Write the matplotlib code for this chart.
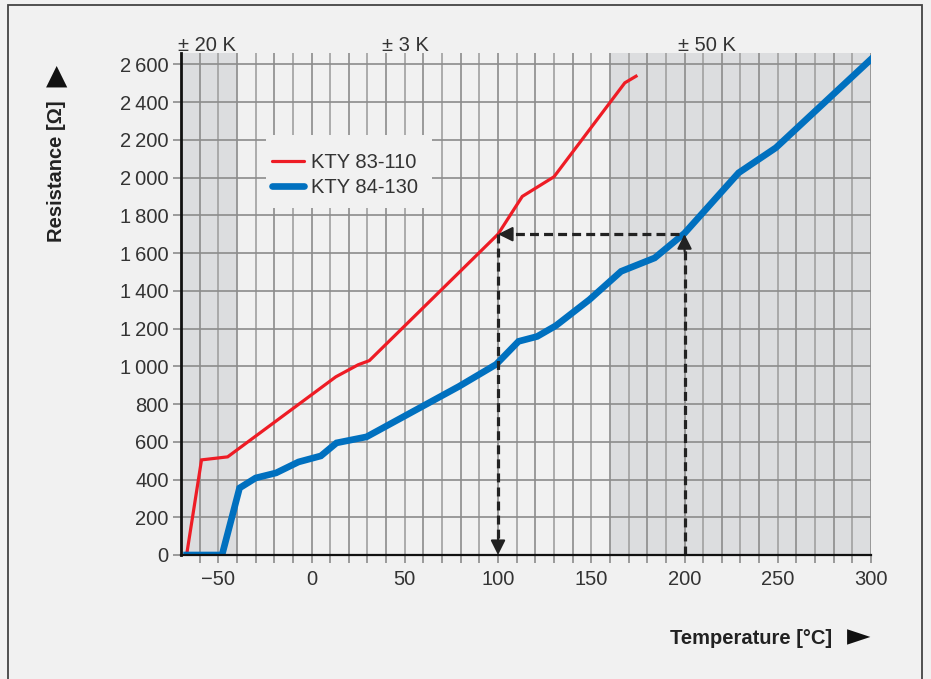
import matplotlib.pyplot as plt
from matplotlib.patches import Rectangle
import numpy as np

plt.rcParams['font.family'] = ['Liberation Sans', 'DejaVu Sans']

# data
t_83 = [-67, -59, -45, 13, 25, 31, 100, 113, 130, 168, 174]
r_83 = [0, 504, 520, 944, 1008, 1030, 1700, 1900, 2004, 2502, 2537]

t_84 = [-67, -48, -38.6, -30, -19, -7, 5, 13.4, 29.5, 79, 99, 111, 121, 131, 149, 166, 184, 200, 229, 249, 300]
r_84 = [0, 0, 355, 408, 435, 493, 525, 594, 626, 893, 1010, 1132, 1158, 1215, 1353, 1503, 1574, 1705, 2025, 2158, 2627]

x_ticks = [-50, 0, 50, 100, 150, 200, 250, 300]
y_ticks = list(range(0, 2601, 200))
y_labels = ['0', '200', '400', '600', '800', '1\u2009000', '1\u2009200', '1\u2009400',
            '1\u2009600', '1\u2009800', '2\u2009000', '2\u2009200', '2\u2009400', '2\u2009600']
tol_labels = ['\u00b1 20 K', '\u00b1 3 K', '\u00b1 50 K']
tol_pos = [-56, 50.5, 212]

bg = '#f1f1f1'
fig = plt.figure(figsize=(9.31, 6.79), dpi=100, facecolor=bg)
ax = fig.add_axes([181 / 931, 1 - 555 / 679, 690 / 931, 502 / 679])
ax.set_facecolor(bg)
ax.set_xlim(-70, 300)
ax.set_ylim(0, 2660)

# shaded tolerance bands
ax.axvspan(-70, -40, color='#dcdddf', zorder=0, lw=0)
ax.axvspan(160, 300, color='#dcdddf', zorder=0, lw=0)

# grid
for xv in range(-60, 301, 10):
    ax.plot([xv, xv], [0, 2660], color='#8c8c8c' if xv % 20 == 0 else '#a0a0a0', lw=1.2, zorder=1)
for yv in y_ticks[1:]:
    ax.axhline(yv, color='#8c8c8c', lw=1.2, zorder=1)

# legend box hides grid
ax.add_patch(Rectangle((-24.5, 1840), 89, 385, facecolor=bg, edgecolor='none', zorder=2))

ax.plot(t_83, r_83, color='#ee1c25', lw=2.3, zorder=4, label='KTY 83-110', solid_joinstyle='miter')
ax.plot(t_84, r_84, color='#0070bf', lw=4.8, zorder=4, label='KTY 84-130', solid_joinstyle='miter')

# dashed reading arrows
dash = dict(color='#222222', lw=2.3, linestyle=(0, (2.8, 1.6)), zorder=5)
ax.plot([197, 100], [1700, 1700], **dash)
ax.plot([100, 100], [1700, 60], **dash)
ax.plot([200, 200], [0, 1640], **dash)
head = dict(arrowstyle='-|>', mutation_scale=22, color='#222222', lw=1.5, shrinkA=0, shrinkB=0)
ax.annotate('', xy=(100, 1700), xytext=(106, 1700), arrowprops=head, zorder=6)
ax.annotate('', xy=(100, 0), xytext=(100, 90), arrowprops=head, zorder=6)
ax.annotate('', xy=(200, 1700), xytext=(200, 1610), arrowprops=head, zorder=6)

leg = ax.legend(loc='upper left', bbox_to_anchor=(0.117, 0.82), frameon=False, fontsize=14.5,
                handlelength=1.6, handletextpad=0.35, labelspacing=0.28, borderpad=0)
for t in leg.get_texts():
    t.set_color('#333333')
for h in leg.get_lines():
    h.set_solid_capstyle('round')

# axes styling
for s in ['top', 'right']:
    ax.spines[s].set_visible(False)
ax.spines['left'].set_linewidth(2)
ax.spines['left'].set_color('#111111')
ax.spines['bottom'].set_linewidth(1.6)
ax.spines['bottom'].set_color('#111111')
ax.spines['left'].set_zorder(7)
ax.spines['bottom'].set_zorder(7)

ax.set_xticks(x_ticks)
ax.set_xticklabels([str(v).replace('-', '\u2212') for v in x_ticks])
ax.set_xticks(range(-60, 301, 10), minor=True)
ax.set_yticks(y_ticks)
ax.set_yticklabels(y_labels)
ax.tick_params(axis='both', which='both', color='#8c8c8c', length=6, width=1.2,
               labelsize=14.5, labelcolor='#333333')
ax.tick_params(axis='y', pad=3)
ax.tick_params(axis='x', pad=5)

for lab, xp in zip(tol_labels, tol_pos):
    ax.text(xp, 2672, lab, ha='center', va='baseline', fontsize=14.5, color='#333333')

# axis titles with arrow marks
fig.text(57 / 931, 1 - 171 / 679, 'Resistance [\u03a9]', rotation=90, ha='center', va='center',
         fontsize=14.5, fontweight='bold', color='#222222')
fig.text(57 / 931, 1 - 76 / 679, '\u25b2', ha='center', va='center', fontsize=20, color='#111111',
         family=['DejaVu Sans'])
fig.text(751 / 931, 1 - 638 / 679, 'Temperature [\u00b0C]', ha='center', va='center',
         fontsize=14.5, fontweight='bold', color='#222222')
fig.text(859 / 931, 1 - 637 / 679, '\u25ba', ha='center', va='center', fontsize=22, color='#111111',
         family=['DejaVu Sans'])

# outer frame
fig.patches.append(Rectangle((8 / 931, -0.01), 914 / 931, 1 - 5 / 679 + 0.01, transform=fig.transFigure,
                             facecolor='none', edgecolor='#444444', lw=1.3))

fig.savefig('out.png', dpi=100, facecolor=bg)
